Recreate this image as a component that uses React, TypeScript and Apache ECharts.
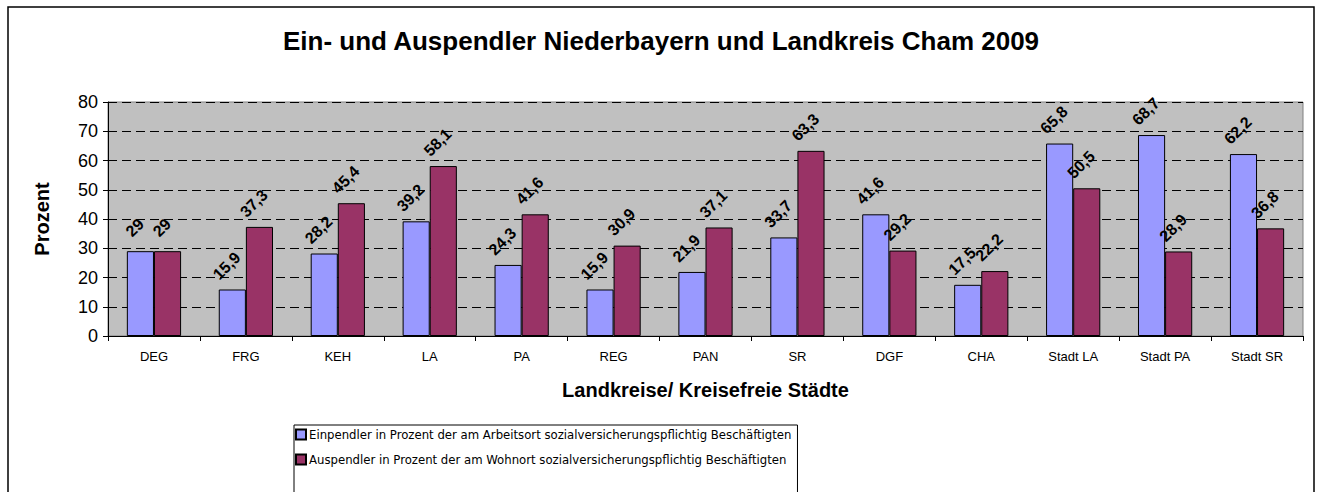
import React, { useEffect, useRef } from "react";
import * as echarts from "echarts";

const titleText = "Ein- und Auspendler Niederbayern und Landkreis Cham 2009";
const categories = ["DEG", "FRG", "KEH", "LA", "PA", "REG", "PAN", "SR", "DGF", "CHA", "Stadt LA", "Stadt PA", "Stadt SR"];
const einpendler = [29, 15.9, 28.2, 39.2, 24.3, 15.9, 21.9, 33.7, 41.6, 17.5, 65.8, 68.7, 62.2];
const auspendler = [29, 37.3, 45.4, 58.1, 41.6, 30.9, 37.1, 63.3, 29.2, 22.2, 50.5, 28.9, 36.8];
const seriesNames = [
  "Einpendler in Prozent der am Arbeitsort sozialversicherungspflichtig Beschäftigten",
  "Auspendler in Prozent der am Wohnort sozialversicherungspflichtig Beschäftigten",
];
const yAxisName = "Prozent";
const xAxisName = "Landkreise/ Kreisefreie Städte";

const FONT = "'Liberation Sans', Arial, sans-serif";
const NARROW = "'Liberation Sans Narrow', 'Arial Narrow', 'DejaVu Sans Condensed', 'Liberation Sans', sans-serif";

export default function App() {
  const ref = useRef<HTMLDivElement>(null);
  useEffect(() => {
    document.body.style.margin = "0";
    if (!ref.current) return;
    const chart = echarts.init(ref.current, undefined, { renderer: "svg" });
    const label = {
      show: true,
      position: "top" as const,
      distance: 18,
      rotate: 45,
      align: "center" as const,
      verticalAlign: "bottom" as const,
      fontFamily: FONT,
      fontWeight: "bold" as const,
      fontSize: 16,
      color: "#000",
      formatter: (p: any) => String(p.value).replace(".", ","),
    };
    chart.setOption({
      animation: false,
      backgroundColor: "#fff",
      title: {
        text: titleText,
        left: "center",
        top: 28,
        padding: 0,
        textStyle: { fontFamily: FONT, fontWeight: "bold", fontSize: 26, color: "#000" },
      },
      graphic: [
        {
          type: "rect",
          shape: { x: 8, y: 7, width: 1306, height: 520 },
          style: { fill: "none", stroke: "#000", lineWidth: 1.5 },
          silent: true,
        },
      ],
      legend: {
        orient: "vertical",
        left: 294,
        top: 425,
        height: 120,
        padding: [3, 6, 40, 1],
        itemGap: 12,
        itemWidth: 10,
        itemHeight: 10,
        icon: "rect",
        backgroundColor: "#fff",
        borderColor: "#000",
        borderWidth: 1,
        textStyle: { fontFamily: NARROW, fontSize: 13, color: "#000", padding: [0, 0, 0, -2] },
        data: seriesNames,
      },
      grid: {
        show: true,
        left: 108,
        right: 19,
        top: 102,
        bottom: 156,
        backgroundColor: "#C0C0C0",
        borderColor: "#808080",
        borderWidth: 1,
      },
      xAxis: {
        type: "category",
        data: categories,
        name: xAxisName,
        nameLocation: "middle",
        nameGap: 44,
        nameTextStyle: { fontFamily: FONT, fontWeight: "bold", fontSize: 20, color: "#000" },
        axisLine: { lineStyle: { color: "#000", width: 1 } },
        axisTick: { show: true, length: 5, lineStyle: { color: "#000" } },
        axisLabel: { fontFamily: FONT, fontSize: 13, color: "#000", margin: 14 },
      },
      yAxis: {
        type: "value",
        min: 0,
        max: 80,
        interval: 10,
        name: yAxisName,
        nameLocation: "middle",
        nameGap: 56,
        nameTextStyle: { fontFamily: FONT, fontWeight: "bold", fontSize: 20, color: "#000" },
        axisLine: { show: true, lineStyle: { color: "#000", width: 1 } },
        axisTick: { show: true, length: 5, lineStyle: { color: "#000" } },
        axisLabel: { fontFamily: FONT, fontSize: 18, color: "#000", margin: 10 },
        splitLine: { show: true, lineStyle: { color: "#000", width: 1, type: [9, 5] } },
      },
      series: [
        {
          name: seriesNames[0],
          type: "bar",
          data: einpendler,
          barGap: "0%",
          barCategoryGap: "41%",
          itemStyle: { color: "#9999FF", borderColor: "#000", borderWidth: 1 },
          label,
        },
        {
          name: seriesNames[1],
          type: "bar",
          data: auspendler,
          barGap: "0%",
          barCategoryGap: "41%",
          itemStyle: { color: "#993366", borderColor: "#000", borderWidth: 1 },
          label,
        },
      ],
    });
    return () => chart.dispose();
  }, []);
  return <div ref={ref} style={{ width: "1322px", height: "492px" }} />;
}
